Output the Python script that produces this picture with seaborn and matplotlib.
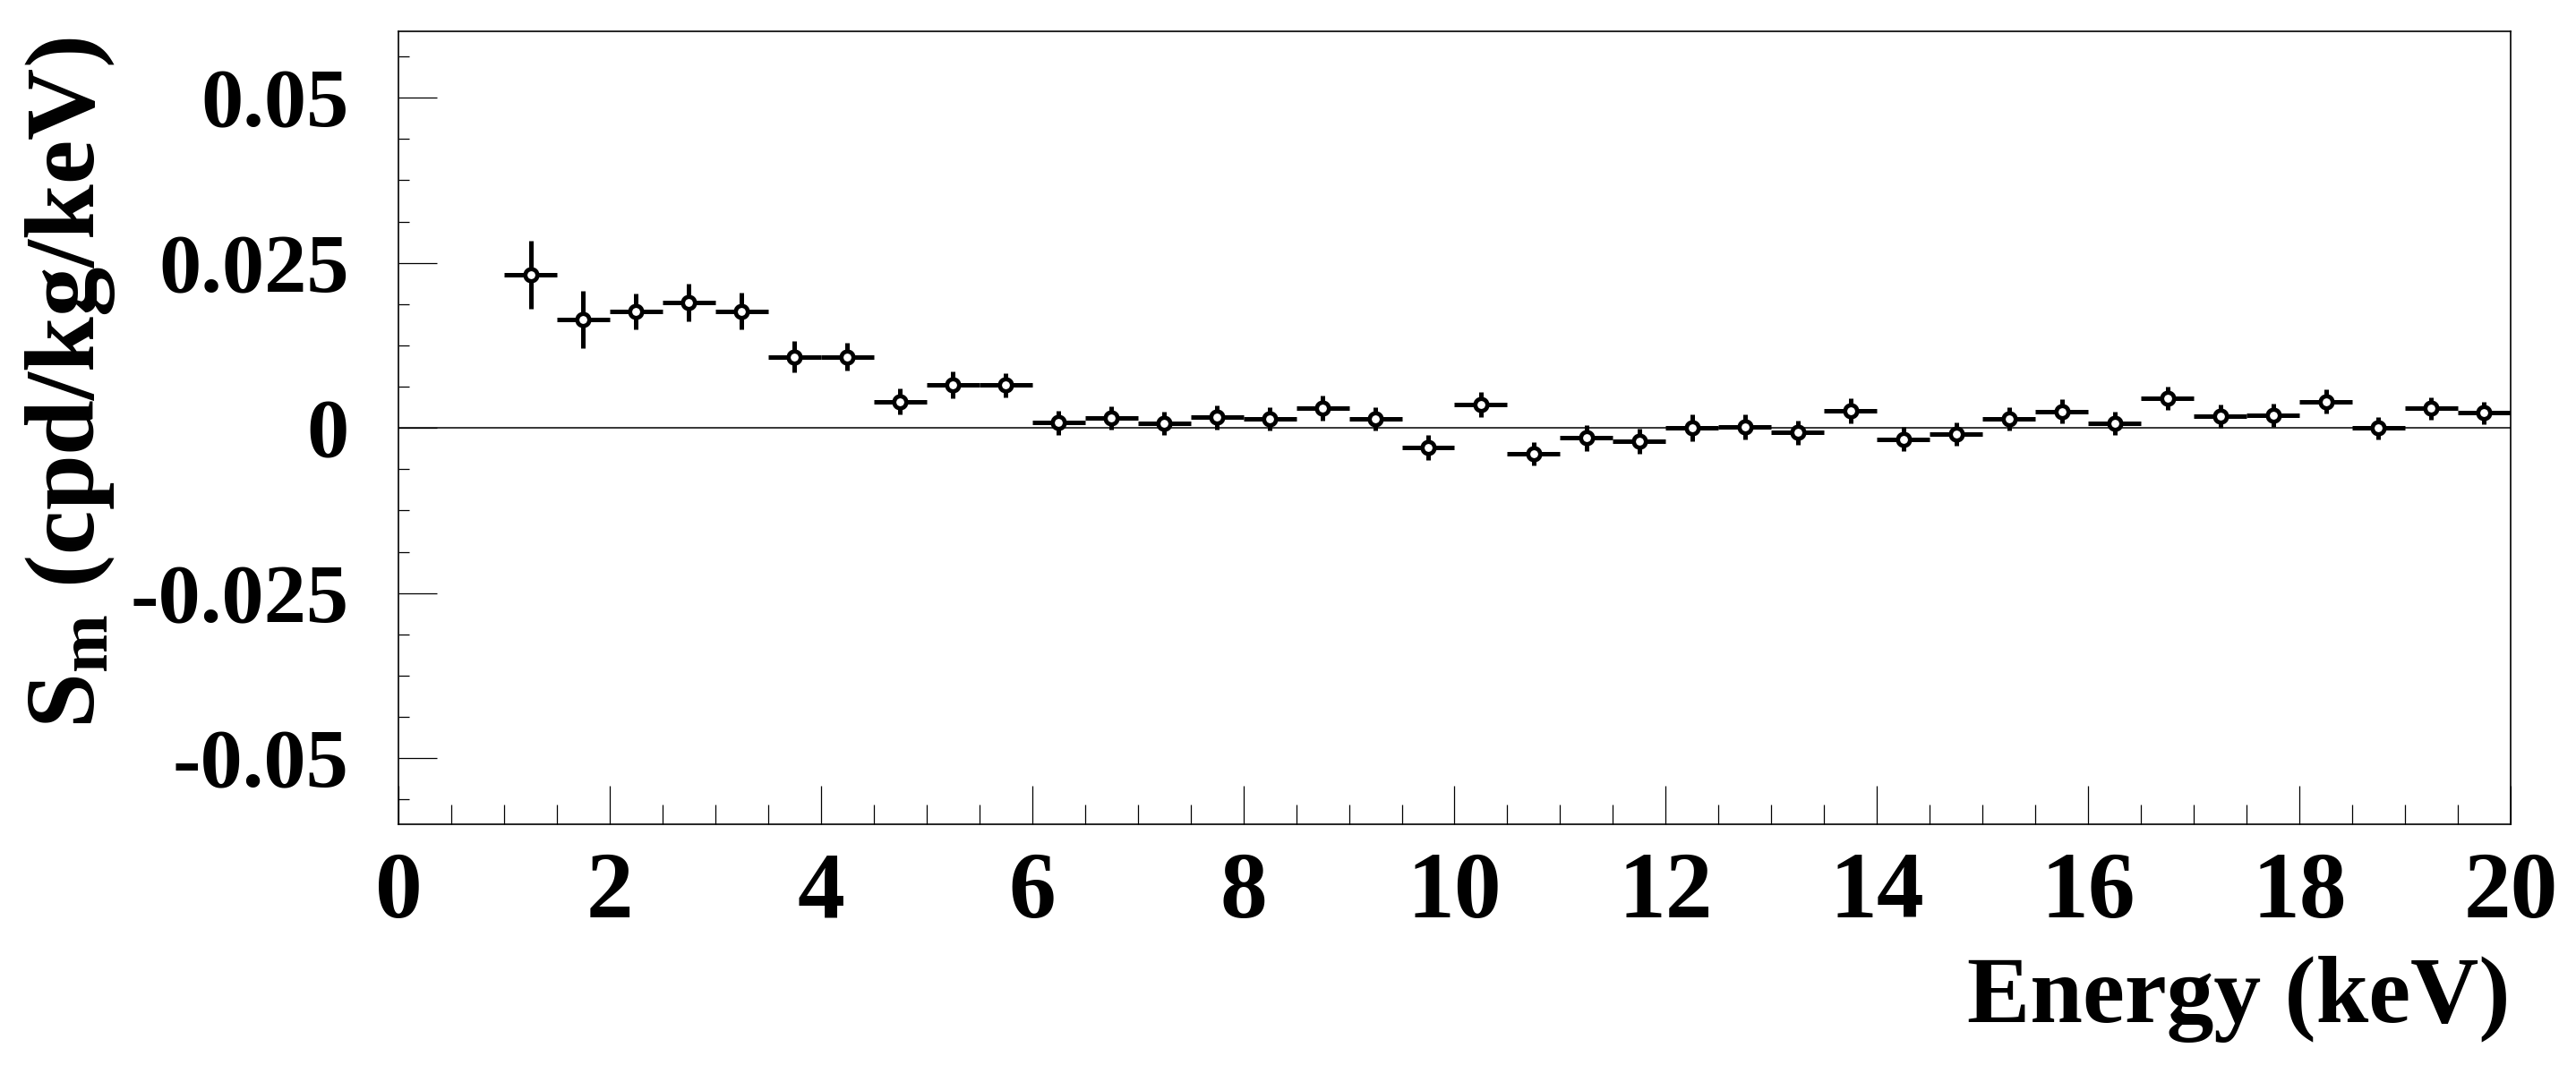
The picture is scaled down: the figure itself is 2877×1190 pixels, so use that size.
import matplotlib
matplotlib.use("Agg")
import matplotlib.pyplot as plt
from matplotlib.ticker import MultipleLocator
import pandas as pd
import seaborn as sns

# bin centres (keV) and modulation amplitude Sm with errors
energy = [1.25, 1.75, 2.25, 2.75, 3.25, 3.75, 4.25, 4.75, 5.25, 5.75,
          6.25, 6.75, 7.25, 7.75, 8.25, 8.75, 9.25, 9.75, 10.25, 10.75,
          11.25, 11.75, 12.25, 12.75, 13.25, 13.75, 14.25, 14.75, 15.25, 15.75,
          16.25, 16.75, 17.25, 17.75, 18.25, 18.75, 19.25, 19.75]
sm = [0.0232, 0.0164, 0.0177, 0.0190, 0.0177, 0.0108, 0.0108, 0.0040, 0.0065, 0.0065,
      0.0008, 0.0015, 0.0007, 0.0016, 0.0014, 0.0030, 0.0014, -0.0029, 0.0035, -0.0039,
      -0.0015, -0.0020, 0.0000, 0.0002, -0.0007, 0.0026, -0.0017, -0.0009, 0.0014, 0.0025,
      0.0007, 0.0045, 0.0018, 0.0019, 0.0040, 0.0000, 0.0030, 0.0023]
sm_err = [0.0052, 0.0043, 0.0027, 0.0029, 0.0028, 0.0024, 0.0021, 0.0020, 0.0020, 0.0018,
          0.0018, 0.0018, 0.0017, 0.0018, 0.0018, 0.0019, 0.0018, 0.0019, 0.0019, 0.0018,
          0.0020, 0.0019, 0.0020, 0.0019, 0.0018, 0.0019, 0.0018, 0.0018, 0.0018, 0.0018,
          0.0018, 0.0018, 0.0018, 0.0018, 0.0018, 0.0017, 0.0017, 0.0017]
bin_half_width = 0.25

x_ticks = [0, 2, 4, 6, 8, 10, 12, 14, 16, 18, 20]
y_ticks = [-0.05, -0.025, 0, 0.025, 0.05]
y_tick_labels = ["-0.05", "-0.025", "0", "0.025", "0.05"]

df = pd.DataFrame({"energy": energy, "sm": sm, "err": sm_err})

sns.set_theme(style="ticks")
plt.rcParams["font.family"] = ["Liberation Serif", "DejaVu Serif"]
plt.rcParams["font.weight"] = "bold"
plt.rcParams["mathtext.fontset"] = "custom"
plt.rcParams["mathtext.rm"] = "Liberation Serif:bold"
plt.rcParams["mathtext.it"] = "Liberation Serif:bold"
plt.rcParams["mathtext.bf"] = "Liberation Serif:bold"
for key in ["text.color", "axes.labelcolor", "xtick.color", "ytick.color", "axes.edgecolor"]:
    plt.rcParams[key] = "black"

fig = plt.figure(figsize=(28.77, 11.90), dpi=100)
ax = fig.add_axes([0.1547, 0.2261, 0.8199, 0.7441])

ax.axhline(0, color="black", lw=1.1, zorder=1)
ax.errorbar(df["energy"], df["sm"], yerr=df["err"], xerr=bin_half_width,
            fmt="none", ecolor="black", elinewidth=3.6, capsize=0, zorder=2)
sns.scatterplot(data=df, x="energy", y="sm", ax=ax, marker="o", s=95,
                facecolor="white", edgecolor="black", linewidth=3.4, zorder=3)

ax.set_xlim(0, 20)
ax.set_ylim(-0.06, 0.06)
ax.set_xticks(x_ticks)
ax.set_xticklabels([str(t) for t in x_ticks])
ax.set_yticks(y_ticks)
ax.set_yticklabels(y_tick_labels)
ax.xaxis.set_minor_locator(MultipleLocator(0.5))
ax.yaxis.set_minor_locator(MultipleLocator(0.00625))

ax.tick_params(axis="x", which="major", direction="in", length=31, width=0.9,
               labelsize=76, pad=22)
ax.tick_params(axis="x", which="minor", direction="in", length=15.5, width=0.9)
ax.tick_params(axis="y", which="major", direction="in", length=31, width=0.9,
               labelsize=68, pad=40)
ax.tick_params(axis="y", which="minor", direction="in", length=8.5, width=0.9)
ax.tick_params(top=False, right=False, which="both")

for sp in ax.spines.values():
    sp.set_linewidth(1.2)
    sp.set_color("black")

ax.set_xlabel("Energy (keV)", fontsize=76, fontweight="bold", loc="right")
ax.xaxis.set_label_coords(1.0, -0.166)
ax.xaxis.label.set_verticalalignment("top")
ax.set_ylabel(r"$\mathbf{S_m}$ (cpd/kg/keV)", fontsize=80, fontweight="bold", loc="top")
ax.yaxis.set_label_coords(-0.133, 0.993)

fig.savefig("out.png", dpi=100, facecolor="white")
